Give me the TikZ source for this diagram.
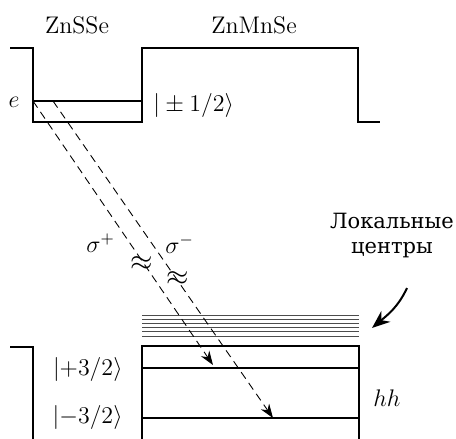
\documentclass[tikz,border=0pt]{standalone}
\usepackage{amsmath, amssymb}
\usepackage{fontspec}
\newfontfamily\cyrfont{DejaVu Serif}
\usepackage{tikz}
\usetikzlibrary{arrows.meta}

\begin{document}
\begin{tikzpicture}[
    x=0.5pt, y=-0.5pt,
    band/.style={line width=0.8pt},
    centre/.style={line width=0.45pt, black!70},
    photon/.style={line width=0.45pt, dash pattern=on 4pt off 2.6pt,
                   -{Stealth[length=7pt,width=5pt]}},
    lbl/.style={font=\fontsize{12}{14}\selectfont, inner sep=0pt},
    spaced/.style={font=\fontsize{12}{14}\selectfont\addfontfeatures{LetterSpace=8}},
  ]
  \useasboundingbox (0,0) rectangle (456,439);

  % зона проводимости
  \draw[band] (10,48) -- (33,48) -- (33,122) -- (142,122) -- (142,48)
    -- (358,48) -- (358,122) -- (380,122);
  \draw[band] (33,101) -- (142,101);

  % валентная зона
  \draw[band] (10,347) -- (33,347) -- (33,439);
  \draw[band] (142,439) -- (142,346) -- (359,346) -- (359,439);
  \draw[band] (142,368) -- (359,368);
  \draw[band] (142,418) -- (359,418);

  % локальные центры
  \foreach \k in {0,...,5}
    \draw[centre] (142,315+4.2*\k) -- (359,315+4.2*\k);

  \node[lbl, spaced, anchor=base] (znsse) at (77,33) {ZnSSe};
  \node[lbl, spaced, anchor=base] (znmnse) at (254,33) {ZnMnSe};
  \node[lbl, anchor=base] (el) at (14,107) {$e$};
  \node[lbl, anchor=base west] (half) at (153,112) {$|\pm1/2\rangle$};
  \node[lbl, anchor=base east] (plus) at (123,375) {$|{+}3/2\rangle$};
  \node[lbl, anchor=base east] (minus) at (123,423) {$|{-}3/2\rangle$};
  \node[lbl, anchor=base west] (hh) at (373,406) {$hh$};
  \node[lbl, anchor=base west] (sp) at (86,252) {$\sigma^+$};
  \node[lbl, anchor=base west] (sm) at (165,253) {$\sigma^-$};
  \node[lbl, font=\Large] (cut1) at (142,264) {$\approx$};
  \node[lbl, font=\Large] (cut2) at (178,279) {$\approx$};
  \node[lbl, anchor=base, align=center, font=\cyrfont\fontsize{10.5}{12.5}\selectfont]
    (loc) at (392,253) {Локальные\\центры};

  % переходы
  \coordinate (ep) at (33,101);
  \coordinate (em) at (53,101);
  \coordinate (hp) at (213,365);
  \coordinate (hm) at (273,418);
  \draw[photon] (ep) -- (hp);
  \draw[photon] (em) -- (hm);

  \coordinate (lc) at (372,328);
  \draw[line width=1pt, -{Stealth[length=9pt,width=7pt]}]
    (407,288) to[out=-115, in=40] (lc);
\end{tikzpicture}
\end{document}
